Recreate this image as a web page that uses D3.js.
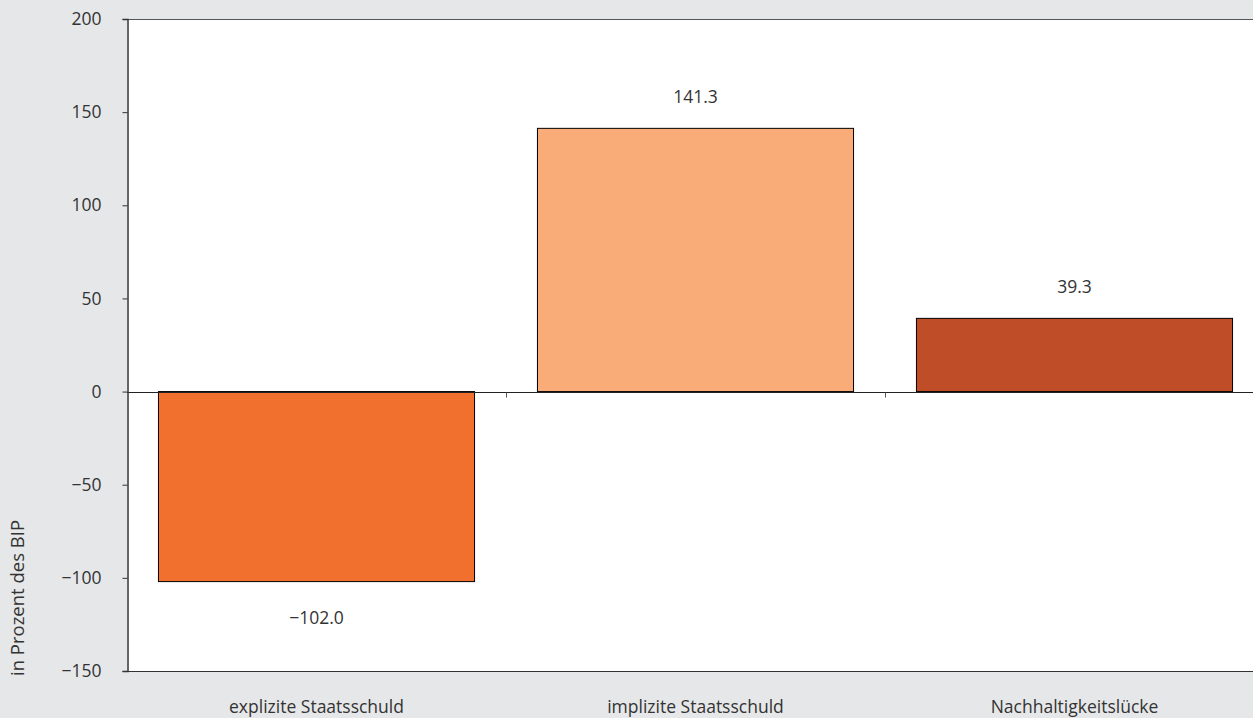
<!DOCTYPE html>
<html>
<head>
<meta charset="utf-8">
<script src="https://cdn.jsdelivr.net/npm/d3@7"></script>
<style>
  body { margin: 0; background: #e6e7e9; }
  svg { display: block; font-family: "Open Sans", "Noto Sans", sans-serif; }
</style>
</head>
<body>
<div id="chart"></div>
<script>
const categories = ["explizite Staatsschuld", "implizite Staatsschuld", "Nachhaltigkeitslücke"];
const values = [-102.0, 141.3, 39.3];
const barColors = ["#f2702d", "#f9ab78", "#bf4e28"];
const yTicks = [-150, -100, -50, 0, 50, 100, 150, 200];
const yTitle = "in Prozent des BIP";

const width = 1253, height = 718;
const plotLeft = 127, plotTop = 19, plotBottom = 671;
const bandWidth = 379; // plot runs past the right edge of the picture
const fontSize = 17.5;

const svg = d3.select("#chart")
  .append("svg")
  .attr("width", width)
  .attr("height", height);

svg.append("rect")
  .attr("width", width)
  .attr("height", height)
  .attr("fill", "#e6e7e9");

const x = d3.scaleBand()
  .domain(categories)
  .range([plotLeft, plotLeft + bandWidth * categories.length])
  .paddingInner(0.166)
  .paddingOuter(0.083);

const y = d3.scaleLinear()
  .domain([-150, 200])
  .range([plotBottom, plotTop]);

// plot area
svg.append("rect")
  .attr("x", plotLeft)
  .attr("y", plotTop)
  .attr("width", width - plotLeft)
  .attr("height", plotBottom - plotTop)
  .attr("fill", "#fff");

// top and bottom frame lines
svg.append("line")
  .attr("x1", plotLeft).attr("x2", width)
  .attr("y1", plotTop + 0.5).attr("y2", plotTop + 0.5)
  .attr("stroke", "#555").attr("stroke-width", 1);
svg.append("line")
  .attr("x1", plotLeft).attr("x2", width)
  .attr("y1", plotBottom + 0.5).attr("y2", plotBottom + 0.5)
  .attr("stroke", "#333").attr("stroke-width", 1);

// bars
svg.selectAll("rect.bar")
  .data(values)
  .enter()
  .append("rect")
  .attr("class", "bar")
  .attr("x", (d, i) => x(categories[i]))
  .attr("y", d => y(Math.max(0, d)))
  .attr("width", x.bandwidth())
  .attr("height", d => Math.abs(y(d) - y(0)))
  .attr("fill", (d, i) => barColors[i])
  .attr("stroke", "#000")
  .attr("stroke-width", 1);

// zero line with category ticks
const zeroY = Math.round(y(0)) + 0.5;
svg.append("line")
  .attr("x1", plotLeft).attr("x2", width)
  .attr("y1", zeroY).attr("y2", zeroY)
  .attr("stroke", "#222").attr("stroke-width", 1);

svg.selectAll("line.cat-tick")
  .data(categories.slice(1))
  .enter()
  .append("line")
  .attr("class", "cat-tick")
  .attr("x1", d => Math.round(x(d) - x.step() * x.paddingInner() / 2) + 0.5)
  .attr("x2", d => Math.round(x(d) - x.step() * x.paddingInner() / 2) + 0.5)
  .attr("y1", zeroY)
  .attr("y2", zeroY + 5)
  .attr("stroke", "#555");

// value labels
svg.selectAll("text.value")
  .data(values)
  .enter()
  .append("text")
  .attr("class", "value")
  .attr("x", (d, i) => x(categories[i]) + x.bandwidth() / 2)
  .attr("y", d => d >= 0 ? y(d) - 25 : y(d) + 42)
  .attr("text-anchor", "middle")
  .attr("font-size", fontSize)
  .attr("fill", "#333")
  .text(d => d.toFixed(1).replace("-", "\u2212"));

// y axis
const yAxis = svg.append("g")
  .attr("transform", `translate(${plotLeft + 0.5},0)`)
  .call(d3.axisLeft(y)
    .tickValues(yTicks)
    .tickSize(5)
    .tickPadding(21)
    .tickFormat(d => String(d).replace("-", "\u2212")));
yAxis.select(".domain").attr("stroke", "#333").attr("stroke-width", 1.5);
yAxis.selectAll(".tick line").attr("stroke", "#333");
yAxis.selectAll(".tick text")
  .attr("font-size", fontSize)
  .attr("fill", "#333")
  .attr("font-family", "\"Open Sans\", \"Noto Sans\", sans-serif");

// category labels
svg.selectAll("text.cat")
  .data(categories)
  .enter()
  .append("text")
  .attr("class", "cat")
  .attr("x", d => x(d) + x.bandwidth() / 2)
  .attr("y", 713)
  .attr("text-anchor", "middle")
  .attr("font-size", fontSize)
  .attr("fill", "#333")
  .text(d => d);

// y title
svg.append("text")
  .attr("transform", "translate(24,676) rotate(-90)")
  .attr("text-anchor", "start")
  .attr("font-size", 18.5)
  .attr("fill", "#333")
  .text(yTitle);
</script>
</body>
</html>
